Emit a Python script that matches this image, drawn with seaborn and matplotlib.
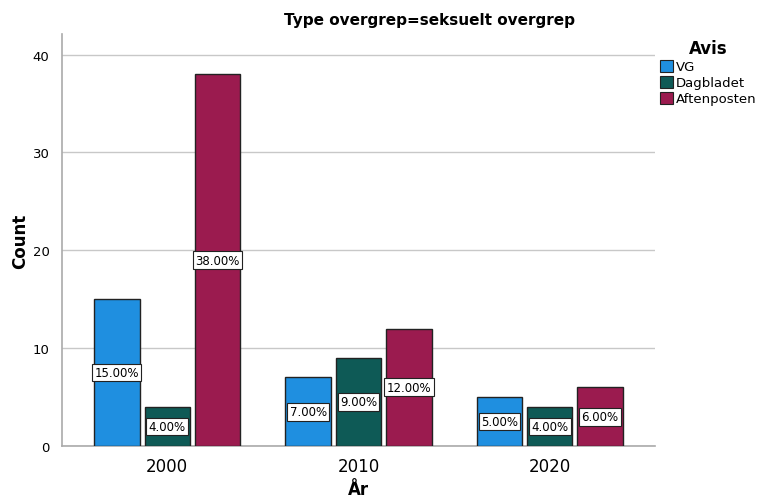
import pandas as pd
import matplotlib
matplotlib.use("Agg")
import matplotlib.pyplot as plt
from matplotlib.patches import Patch
import seaborn as sns

years = ["2000", "2010", "2020"]
papers = ["VG", "Dagbladet", "Aftenposten"]
vg = [15, 7, 5]
dagbladet = [4, 9, 4]
aftenposten = [38, 12, 6]
pct_labels = {
    "VG": ["15.00%", "7.00%", "5.00%"],
    "Dagbladet": ["4.00%", "9.00%", "4.00%"],
    "Aftenposten": ["38.00%", "12.00%", "6.00%"],
}

df = pd.DataFrame({
    "År": years * 3,
    "Avis": [p for p in papers for _ in years],
    "Count": vg + dagbladet + aftenposten,
})

sns.set_style("white")
plt.rcParams["font.family"] = ["DejaVu Sans"]
plt.rcParams["text.color"] = "black"
plt.rcParams["axes.labelcolor"] = "black"
plt.rcParams["xtick.color"] = "black"
plt.rcParams["ytick.color"] = "black"
colors = ["#1f8fe0", "#0e5a56", "#9b1b4f"]

fig = plt.figure(figsize=(7.6, 5.02), dpi=100)
ax = fig.add_axes([62 / 760, 1 - 447 / 502, 593 / 760, 412 / 502])

sns.barplot(data=df, x="År", y="Count", hue="Avis", hue_order=papers,
            palette=colors, saturation=1, width=0.79, gap=0.1,
            edgecolor="#222222", linewidth=1, ax=ax, legend=False, zorder=3)

for cont, p in zip(ax.containers, papers):
    for bar, lab in zip(cont, pct_labels[p]):
        h = bar.get_height()
        ax.text(bar.get_x() + bar.get_width() / 2, h / 2, lab,
                ha="center", va="center", fontsize=8.5, zorder=5,
                bbox=dict(boxstyle="square,pad=0.2", fc="white", ec="#222222", lw=0.8))

ax.set_xlim(-0.55, 2.55)
ax.set_ylim(0, 42.1)
ax.set_yticks([0, 10, 20, 30, 40])
ax.grid(axis="y", color="#c8c8c8", lw=1, zorder=0)
for s in ["top", "right"]:
    ax.spines[s].set_visible(False)
for s in ["left", "bottom"]:
    ax.spines[s].set_color("#aaaaaa")
    ax.spines[s].set_linewidth(1.2)
ax.tick_params(axis="y", length=6, color="#aaaaaa", labelsize=9.5, pad=3)
ax.tick_params(axis="x", length=0, labelsize=12, pad=8)
ax.set_xlabel("År", fontsize=12, fontweight="bold")
ax.set_ylabel("Count", fontsize=12, fontweight="bold")
ax.yaxis.set_label_coords(-0.07, 0.5)
ax.xaxis.set_label_coords(0.5, -0.105)
ax.xaxis.label.set_va("center")
ax.yaxis.label.set_va("center")

fig.text(430 / 760, 1 - 20 / 502, "Type overgrep=seksuelt overgrep",
         ha="center", va="center", fontsize=11, fontweight="bold")

handles = [Patch(facecolor=c, edgecolor="#222222", lw=0.8) for c in colors]
leg = fig.legend(handles, papers, title="Avis", loc="upper left",
                 bbox_to_anchor=(655 / 760, 1 - 35 / 502), frameon=False,
                 fontsize=9.5, handlelength=1.0, handleheight=1.0,
                 handletextpad=0.2, labelspacing=0.2, borderaxespad=0)
leg.get_title().set_fontweight("bold")
leg.get_title().set_fontsize(12)

fig.savefig("out.png", dpi=100)
